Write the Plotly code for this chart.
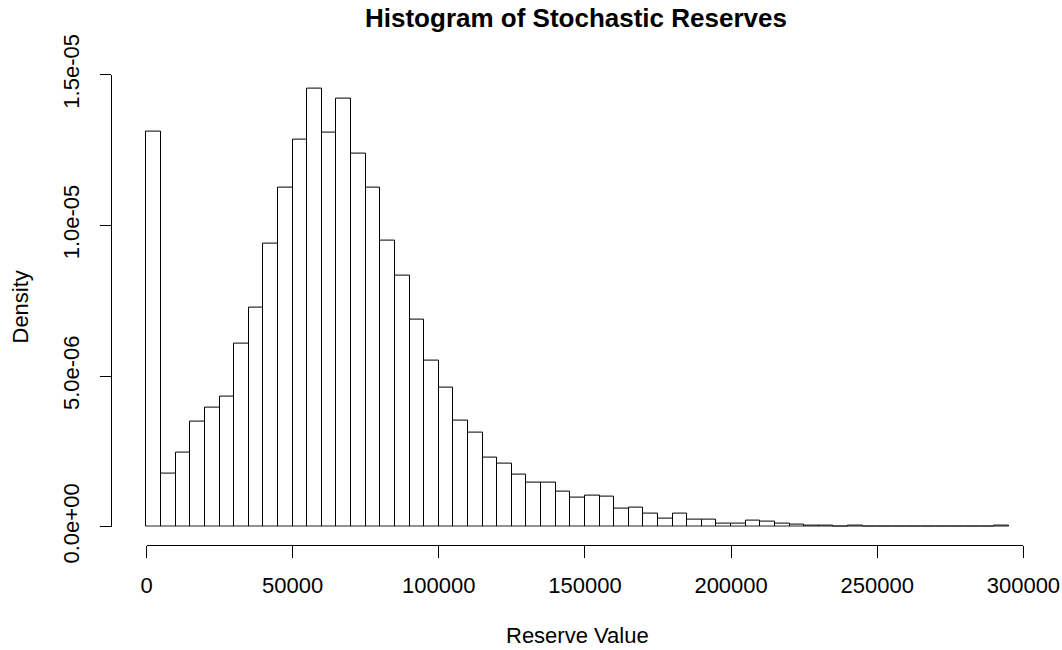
import plotly.graph_objects as go

# Histogram bins (left edges) and densities
bin_width = 5000
bin_left = [0, 5000, 10000, 15000, 20000, 25000, 30000, 35000, 40000, 45000,
            50000, 55000, 60000, 65000, 70000, 75000, 80000, 85000, 90000, 95000,
            100000, 105000, 110000, 115000, 120000, 125000, 130000, 135000, 140000, 145000,
            150000, 155000, 160000, 165000, 170000, 175000, 180000, 185000, 190000, 195000,
            200000, 205000, 210000, 215000, 220000, 225000, 230000, 235000, 240000, 245000,
            250000, 255000, 260000, 265000, 270000, 275000, 280000, 285000, 290000]
density_e6 = [13.11, 1.75, 2.47, 3.50, 3.96, 4.31, 6.08, 7.28, 9.40, 11.25,
              12.86, 14.54, 13.08, 14.19, 12.37, 11.25, 9.50, 8.32, 6.86, 5.52,
              4.61, 3.51, 3.12, 2.29, 2.09, 1.72, 1.46, 1.45, 1.17, 0.97,
              1.04, 1.00, 0.60, 0.63, 0.45, 0.26, 0.43, 0.25, 0.25, 0.11,
              0.09, 0.20, 0.16, 0.11, 0.07, 0.05, 0.03, 0.01, 0.04, 0.0,
              0.0, 0.0, 0.0, 0.0, 0.0, 0.0, 0.0, 0.0, 0.03]
density = [d * 1e-6 for d in density_e6]
centers = [b + bin_width / 2 for b in bin_left]

x_ticks = [0, 50000, 100000, 150000, 200000, 250000, 300000]
x_ticktext = ["0", "50000", "100000", "150000", "200000", "250000", "300000"]
y_ticks = [0, 5e-6, 1e-5, 1.5e-5]
y_ticktext = ["0.0e+00", "5.0e-06", "1.0e-05", "1.5e-05"]

W, H = 1062, 650
FONT = "Liberation Sans, Arial, sans-serif"

# pixel mapping of the displayed x axis (0 -> X0, 300000 -> X1)
X0, X1 = 146.5, 1023.4
PPU = (X1 - X0) / 300000.0
DATA_RANGE = [-11800, 306800]  # R's 4% extended range for the plotting region

fig = go.Figure()
fig.add_trace(go.Bar(
    x=centers, y=density, width=bin_width,
    marker=dict(color="white", line=dict(color="black", width=1)),
    hoverinfo="skip", xaxis="x", yaxis="y",
))
# empty trace so the displayed axis (x2) is drawn
fig.add_trace(go.Scatter(x=[], y=[], xaxis="x2", yaxis="y", hoverinfo="skip"))

fig.update_layout(
    width=W, height=H,
    margin=dict(l=0, r=0, t=0, b=0),
    paper_bgcolor="white", plot_bgcolor="rgba(0,0,0,0)",
    showlegend=False,
    bargap=0,
    font=dict(family=FONT, size=22, color="black"),
    xaxis=dict(
        range=DATA_RANGE,
        domain=[(X0 + DATA_RANGE[0] * PPU) / W, (X0 + DATA_RANGE[1] * PPU) / W],
        visible=False, showgrid=False, zeroline=False, automargin=False,
        anchor="y",
    ),
    xaxis2=dict(
        range=[0, 300000],
        domain=[X0 / W, X1 / W],
        anchor="free", position=(H - 545) / H,
        showline=True, linecolor="black", linewidth=1,
        ticks="outside", ticklen=12, tickcolor="black", tickwidth=1,
        tickvals=x_ticks, ticktext=x_ticktext,
        ticklabelstandoff=9,
        tickfont=dict(family=FONT, size=22, color="black"),
        showgrid=False, zeroline=False, automargin=False,
    ),
    yaxis=dict(
        range=[0, 1.5e-5],
        domain=[(H - 526.7) / H, (H - 74.6) / H],
        anchor="free", position=111 / W,
        showline=True, linecolor="black", linewidth=1,
        ticks="outside", ticklen=11, tickcolor="black", tickwidth=1,
        tickvals=y_ticks, ticktext=y_ticktext, tickangle=-90,
        ticklabelstandoff=12,
        tickfont=dict(family=FONT, size=22, color="black"),
        showgrid=False, zeroline=False, automargin=False,
    ),
    annotations=[
        dict(text="<b>Histogram of Stochastic Reserves</b>", xref="paper", yref="paper",
             x=576 / W, y=1 - 17.5 / H, xanchor="center", yanchor="middle",
             showarrow=False, font=dict(family=FONT, size=26, color="black")),
        dict(text="Reserve Value", xref="paper", yref="paper",
             x=577 / W, y=1 - 635 / H, xanchor="center", yanchor="middle",
             showarrow=False, font=dict(family=FONT, size=22, color="black")),
        dict(text="Density", xref="paper", yref="paper",
             x=20 / W, y=1 - 307.5 / H, xanchor="center", yanchor="middle",
             textangle=-90,
             showarrow=False, font=dict(family=FONT, size=22, color="black")),
    ],
)

fig.write_html("out.html", config={"displayModeBar": False},
               post_script="document.body.style.margin='0';")
